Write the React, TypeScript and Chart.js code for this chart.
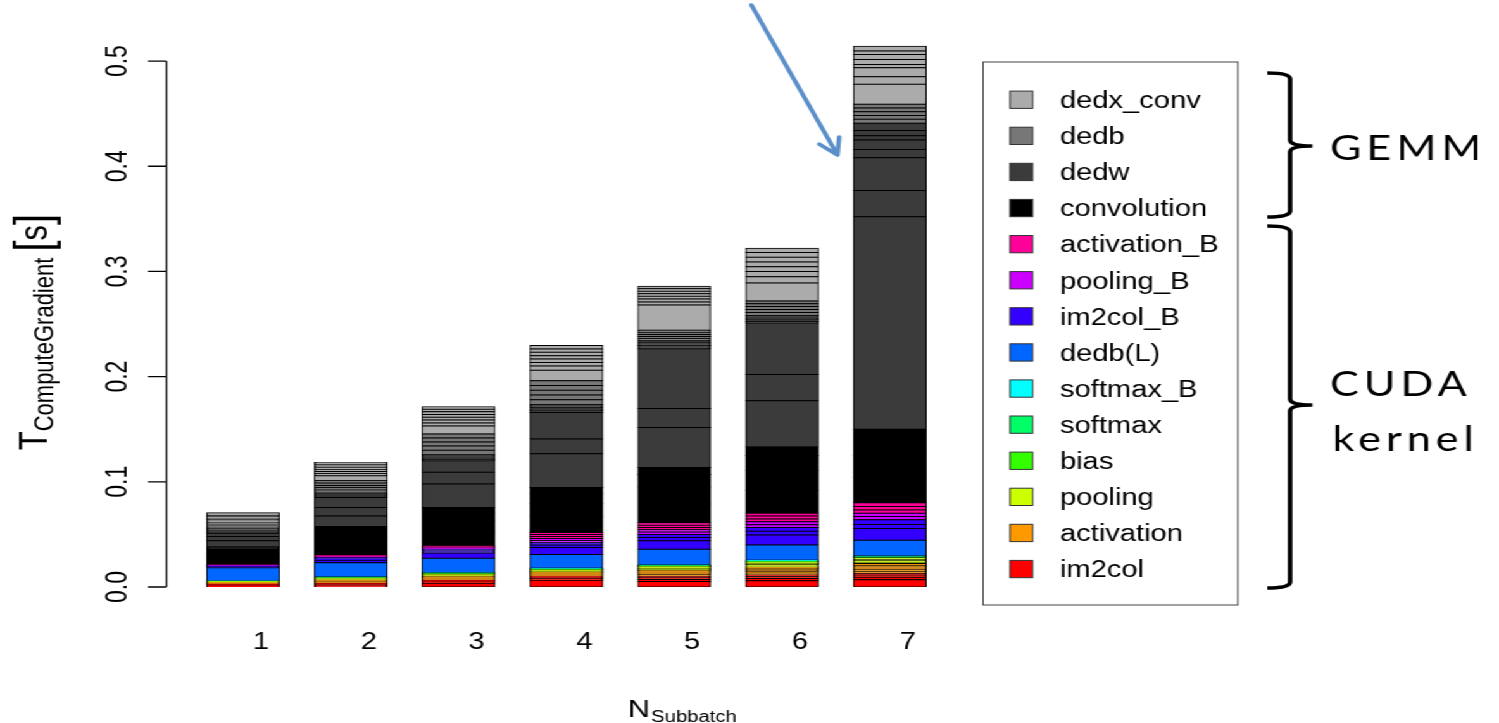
import React, { useEffect, useRef } from 'react';
import { Chart, registerables } from 'chart.js';

Chart.register(...registerables);

// logical canvas size; the whole drawing is stretched horizontally to 1499px
const W = 1184;
const H = 723;
const SX = 1499 / W;

const subbatches = ['1', '2', '3', '4', '5', '6', '7'];
const yTicks = [0, 0.1, 0.2, 0.3, 0.4, 0.5];
const yTickLabels = ['0.0', '0.1', '0.2', '0.3', '0.4', '0.5'];

// Each kernel: list of per-layer rows (bottom-up), one value per N_Subbatch (seconds)
const im2col = [
  [0.0010, 0.0012, 0.0035, 0.0065, 0.0052, 0.0060, 0.0068],
  [0.0008, 0.0010, 0.0012, 0.0015, 0.0020, 0.0020, 0.0025],
  [0.0006, 0.0008, 0.0010, 0.0012, 0.0015, 0.0018, 0.0020],
  [0.0005, 0.0006, 0.0008, 0.0010, 0.0015, 0.0016, 0.0018],
];
const activation = [
  [0.0004, 0.0008, 0.0009, 0.0010, 0.0020, 0.0020, 0.0018],
  [0.0003, 0.0008, 0.0009, 0.0009, 0.0009, 0.0010, 0.0020],
  [0.0003, 0.0008, 0.0009, 0.0009, 0.0009, 0.0010, 0.0010],
  [0.0003, 0.0007, 0.0008, 0.0009, 0.0009, 0.0010, 0.0010],
  [0.0000, 0.0000, 0.0000, 0.0000, 0.0008, 0.0012, 0.0017],
  [0.0000, 0.0000, 0.0000, 0.0000, 0.0000, 0.0012, 0.0017],
];
const pooling = [
  [0.0003, 0.0006, 0.0008, 0.0008, 0.0010, 0.0010, 0.0010],
  [0.0003, 0.0006, 0.0008, 0.0008, 0.0010, 0.0016, 0.0016],
  [0.0003, 0.0006, 0.0008, 0.0008, 0.0010, 0.0010, 0.0010],
  [0.0000, 0.0000, 0.0000, 0.0000, 0.0008, 0.0012, 0.0018],
];
const bias = [[0.0002, 0.0003, 0.0004, 0.0005, 0.0005, 0.0006, 0.0006]];
const softmax = [[0.0002, 0.0003, 0.0004, 0.0005, 0.0005, 0.0006, 0.0006]];
const softmaxB = [[0.0002, 0.0004, 0.0004, 0.0005, 0.0005, 0.0006, 0.0006]];
const dedbL = [[0.0127, 0.0135, 0.0137, 0.0132, 0.0150, 0.0146, 0.0150]];
const im2colB = [
  [0.0008, 0.0025, 0.0050, 0.0065, 0.0080, 0.0095, 0.0110],
  [0.0004, 0.0012, 0.0020, 0.0025, 0.0030, 0.0035, 0.0040],
  [0.0004, 0.0013, 0.0017, 0.0020, 0.0030, 0.0035, 0.0045],
];
const poolingB = [
  [0.0002, 0.0004, 0.0006, 0.0020, 0.0022, 0.0028, 0.0030],
  [0.0002, 0.0004, 0.0006, 0.0020, 0.0022, 0.0027, 0.0030],
];
const activationB = [
  [0.0002, 0.0004, 0.0006, 0.0019, 0.0022, 0.0027, 0.0032],
  [0.0002, 0.0004, 0.0006, 0.0019, 0.0022, 0.0027, 0.0034],
  [0.0002, 0.0004, 0.0006, 0.0019, 0.0022, 0.0026, 0.0034],
];
const convolution = [
  [0.0060, 0.0100, 0.0130, 0.0150, 0.0180, 0.0220, 0.0240],
  [0.0050, 0.0080, 0.0110, 0.0130, 0.0160, 0.0190, 0.0210],
  [0.0040, 0.0060, 0.0080, 0.0095, 0.0120, 0.0140, 0.0160],
  [0.0020, 0.0034, 0.0045, 0.0054, 0.0066, 0.0080, 0.0090],
];
const dedw = [
  [0.0060, 0.0102, 0.0225, 0.0320, 0.0380, 0.0440, 0.2020],
  [0.0040, 0.0079, 0.0110, 0.0140, 0.0180, 0.0250, 0.0250],
  [0.0030, 0.0095, 0.0110, 0.0254, 0.0570, 0.0490, 0.0310],
  [0.0008, 0.0010, 0.0012, 0.0015, 0.0015, 0.0015, 0.0080],
  [0.0008, 0.0010, 0.0012, 0.0015, 0.0015, 0.0015, 0.0090],
  [0.0006, 0.0010, 0.0012, 0.0015, 0.0015, 0.0014, 0.0040],
  [0.0006, 0.0010, 0.0012, 0.0015, 0.0015, 0.0014, 0.0050],
  [0.0006, 0.0010, 0.0012, 0.0015, 0.0015, 0.0014, 0.0070],
];
const dedb = [
  [0.0012, 0.0022, 0.0040, 0.0045, 0.0020, 0.0028, 0.0036],
  [0.0012, 0.0022, 0.0040, 0.0045, 0.0020, 0.0028, 0.0036],
  [0.0011, 0.0022, 0.0038, 0.0045, 0.0020, 0.0028, 0.0036],
  [0.0011, 0.0022, 0.0038, 0.0045, 0.0020, 0.0027, 0.0036],
  [0.0010, 0.0022, 0.0038, 0.0045, 0.0019, 0.0027, 0.0036],
];
const dedxConv = [
  [0.0012, 0.0047, 0.0076, 0.0100, 0.0240, 0.0170, 0.0190],
  [0.0015, 0.0020, 0.0030, 0.0040, 0.0030, 0.0060, 0.0070],
  [0.0014, 0.0020, 0.0028, 0.0035, 0.0028, 0.0050, 0.0086],
  [0.0013, 0.0018, 0.0026, 0.0032, 0.0025, 0.0045, 0.0032],
  [0.0013, 0.0018, 0.0026, 0.0032, 0.0025, 0.0045, 0.0048],
  [0.0013, 0.0017, 0.0025, 0.0032, 0.0024, 0.0045, 0.0047],
  [0.0013, 0.0017, 0.0025, 0.0032, 0.0024, 0.0045, 0.0032],
  [0.0012, 0.0017, 0.0024, 0.0032, 0.0024, 0.0040, 0.0045],
];

// stacking order bottom-up
const kernelNames = [
  'im2col', 'activation', 'pooling', 'bias', 'softmax', 'softmax_B', 'dedb(L)',
  'im2col_B', 'pooling_B', 'activation_B', 'convolution', 'dedw', 'dedb', 'dedx_conv',
];
const kernelColors = [
  '#FF0000', '#FF9900', '#CCFF00', '#33FF00', '#00FF66', '#00FFFF', '#0066FF',
  '#3300FF', '#CC00FF', '#FF0099', '#000000', '#3B3B3B', '#777777', '#ABABAB',
];
const kernelLayers = [
  im2col, activation, pooling, bias, softmax, softmaxB, dedbL,
  im2colB, poolingB, activationB, convolution, dedw, dedb, dedxConv,
];

const FONT = '"Liberation Sans", Arial, Helvetica, sans-serif';
const GEO_FONT = 'Lato, "Open Sans", "Liberation Sans", sans-serif';

function drawBrace(ctx: CanvasRenderingContext2D, x: number, top: number, bottom: number, tip: number) {
  const hook = 18, tipLen = 17.5, r = 6;
  ctx.beginPath();
  ctx.moveTo(x - hook, top);
  ctx.quadraticCurveTo(x, top, x, top + r);
  ctx.lineTo(x, tip - r);
  ctx.quadraticCurveTo(x, tip, x + tipLen, tip);
  ctx.moveTo(x + tipLen, tip);
  ctx.quadraticCurveTo(x, tip, x, tip + r);
  ctx.lineTo(x, bottom - r);
  ctx.quadraticCurveTo(x, bottom, x - hook, bottom);
  ctx.stroke();
}

const overlayPlugin = {
  id: 'overlay',
  afterDraw(chart: any) {
    const ctx: CanvasRenderingContext2D = chart.ctx;
    const y = chart.scales.y;
    ctx.save();

    // y axis (R style: only across the tick range)
    const ax = 131.5;
    const tickEnd = 117;
    ctx.strokeStyle = '#000';
    ctx.lineWidth = 1.3;
    ctx.beginPath();
    ctx.moveTo(ax, y.getPixelForValue(yTicks[0]));
    ctx.lineTo(ax, y.getPixelForValue(yTicks[yTicks.length - 1]));
    yTicks.forEach((v) => {
      const p = y.getPixelForValue(v);
      ctx.moveTo(ax, p);
      ctx.lineTo(tickEnd, p);
    });
    ctx.stroke();

    ctx.fillStyle = '#000';
    ctx.font = `23px ${FONT}`;
    yTicks.forEach((v, i) => {
      const p = y.getPixelForValue(v);
      ctx.save();
      ctx.translate(100, p);
      ctx.rotate(-Math.PI / 2);
      ctx.textAlign = 'center';
      ctx.textBaseline = 'alphabetic';
      ctx.fillText(yTickLabels[i], 0, 0);
      ctx.restore();
    });

    // y title: T_ComputeGradient [s]
    const parts = [
      { t: 'T', f: 31, dy: 0 },
      { t: 'ComputeGradient', f: 22, dy: 5 },
      { t: ' ', f: 22, dy: 0 },
      { t: '[', f: 40, dy: 3 },
      { t: 's', f: 31, dy: 0 },
      { t: ']', f: 40, dy: 3 },
    ];
    let total = 0;
    const widths = parts.map((p) => {
      ctx.font = `${p.f}px ${FONT}`;
      const w = ctx.measureText(p.t).width;
      total += w;
      return w;
    });
    ctx.save();
    ctx.translate(37, (y.getPixelForValue(0) + y.getPixelForValue(0.5)) / 2 + 8);
    ctx.rotate(-Math.PI / 2);
    ctx.textAlign = 'left';
    ctx.textBaseline = 'alphabetic';
    let cx = -total / 2;
    parts.forEach((p, i) => {
      ctx.font = `${p.f}px ${FONT}`;
      ctx.fillText(p.t, cx, p.dy);
      cx += widths[i];
    });
    ctx.restore();

    // x title: N_Subbatch
    ctx.textAlign = 'left';
    ctx.textBaseline = 'alphabetic';
    ctx.font = `24px ${FONT}`;
    ctx.fillText('N', 496, 717);
    const nW = ctx.measureText('N').width;
    ctx.font = `16px ${FONT}`;
    ctx.fillText('Subbatch', 496 + nW + 1, 722);

    // legend box
    const lx0 = 776.5, ly0 = 62, lx1 = 977.8, ly1 = 605;
    ctx.strokeStyle = '#444';
    ctx.lineWidth = 1;
    ctx.strokeRect(lx0, ly0, lx1 - lx0, ly1 - ly0);
    ctx.font = `23px ${FONT}`;
    const n = kernelNames.length;
    for (let i = 0; i < n; i++) {
      const k = n - 1 - i;
      const cy = 99.7 + 36.1 * i;
      ctx.fillStyle = kernelColors[k];
      ctx.fillRect(797.8, cy - 8.6, 17.9, 17.3);
      ctx.strokeStyle = '#333';
      ctx.lineWidth = 1;
      ctx.strokeRect(797.8, cy - 8.6, 17.9, 17.3);
      ctx.fillStyle = '#000';
      ctx.fillText(kernelNames[k], 837.2, cy + 8.3);
    }

    // braces
    ctx.strokeStyle = '#000';
    ctx.lineWidth = 3.6;
    ctx.lineCap = 'butt';
    ctx.lineJoin = 'round';
    drawBrace(ctx, 1019, 73, 217, 146);
    drawBrace(ctx, 1019, 226, 588, 405);

    ctx.fillStyle = '#000';
    ctx.font = `34px ${GEO_FONT}`;
    (ctx as any).letterSpacing = '4px';
    ctx.textBaseline = 'middle';
    ctx.fillText('GEMM', 1050.5, 149);
    ctx.fillText('CUDA', 1050.5, 385);
    ctx.fillText('kernel', 1052.5, 440);
    (ctx as any).letterSpacing = '0px';

    // arrow
    const x0 = 593.5, y0 = 5, x1 = 661.5, y1 = 155;
    ctx.strokeStyle = '#5B8FC9';
    ctx.lineWidth = 3.6;
    ctx.lineCap = 'round';
    ctx.beginPath();
    ctx.moveTo(x0, y0);
    ctx.lineTo(x1, y1);
    const ang = Math.atan2(y1 - y0, x1 - x0);
    const hl = 18;
    ctx.moveTo(x1, y1);
    ctx.lineTo(x1 - hl * Math.cos(ang - 0.5), y1 - hl * Math.sin(ang - 0.5));
    ctx.moveTo(x1, y1);
    ctx.lineTo(x1 - hl * Math.cos(ang + 0.5), y1 - hl * Math.sin(ang + 0.5));
    ctx.stroke();

    ctx.restore();
  },
};

export default function App() {
  const ref = useRef<HTMLCanvasElement>(null);

  useEffect(() => {
    const datasets: any[] = [];
    kernelNames.forEach((name, k) => {
      kernelLayers[k].forEach((layer) => {
        datasets.push({
          label: name,
          data: layer,
          backgroundColor: kernelColors[k],
          borderColor: '#000000',
          borderWidth: 1,
          borderSkipped: false,
          inflateAmount: 0.5,
          stack: 'all',
        });
      });
    });

    Chart.defaults.font.family = FONT;
    const chart = new Chart(ref.current as HTMLCanvasElement, {
      type: 'bar',
      data: { labels: subbatches, datasets },
      options: {
        responsive: false,
        animation: false,
        layout: { padding: { left: 149.35, right: 438.6, top: 19, bottom: 24.4 } },
        datasets: { bar: { barPercentage: 0.673, categoryPercentage: 1 } },
        plugins: { legend: { display: false }, tooltip: { enabled: false } },
        scales: {
          x: {
            stacked: true,
            grid: { display: false, drawTicks: false, tickLength: 0 },
            border: { display: false },
            ticks: {
              color: '#000',
              font: { size: 23, family: FONT },
              padding: 42,
              labelOffset: 14.2,
              maxRotation: 0,
              autoSkip: false,
            },
          },
          y: { stacked: true, display: false, min: 0, max: 0.54 },
        },
      } as any,
      plugins: [overlayPlugin],
    });
    return () => chart.destroy();
  }, []);

  return (
    <div
      style={{
        position: 'fixed',
        left: 0,
        top: 0,
        width: W,
        height: H,
        transform: `scaleX(${SX})`,
        transformOrigin: '0 0',
        background: '#fff',
      }}
    >
      <canvas ref={ref} width={W} height={H} style={{ display: 'block' }} />
    </div>
  );
}
